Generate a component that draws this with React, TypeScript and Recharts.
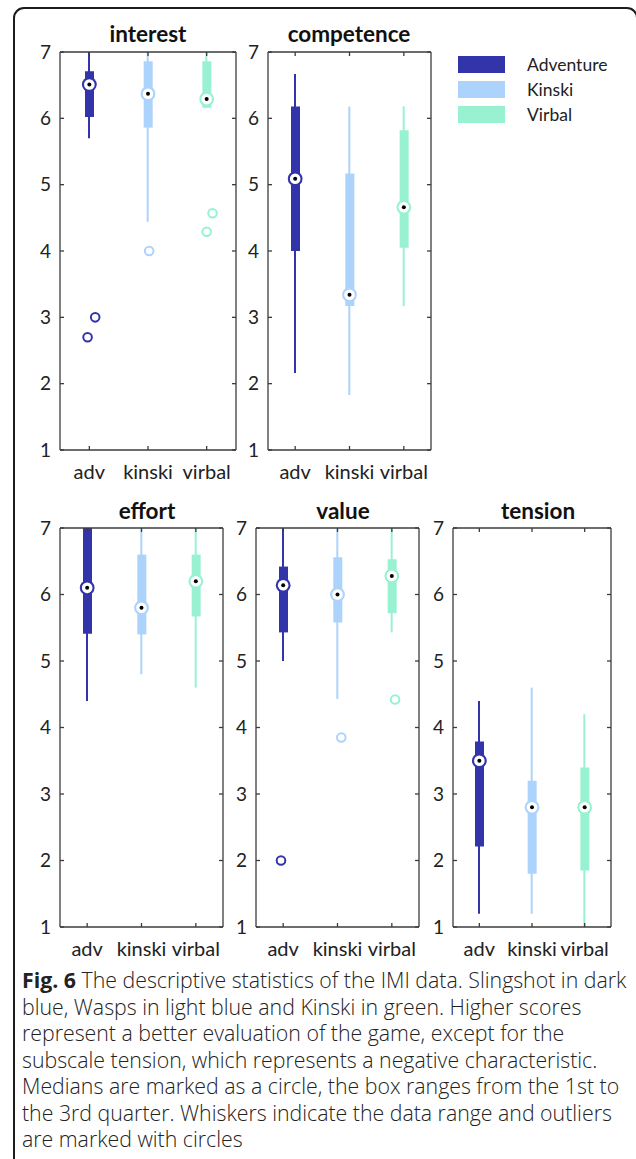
import React from 'react';
import { ComposedChart, Bar, Scatter, XAxis, YAxis, Cell } from 'recharts';

const categories = ['adv', 'kinski', 'virbal'];
const seriesNames = ['Adventure', 'Kinski', 'Virbal'];
const colors = ['#3434aa', '#acd3fc', '#98f2d1'];
const yTicks = [1, 2, 3, 4, 5, 6, 7];

// interest
const interestLow = [5.7, 4.44, 6.16];
const interestQ1 = [6.02, 5.86, 6.16];
const interestMedian = [6.51, 6.37, 6.29];
const interestQ3 = [6.71, 6.86, 6.86];
const interestHigh = [7, 7, 7];
const interestOutX = [0.97, 1.1, 2.02, 3.1, 3.0];
const interestOutY = [2.7, 3.0, 4.0, 4.57, 4.29];

// competence
const competenceLow = [2.16, 1.83, 3.17];
const competenceQ1 = [4.0, 3.17, 4.05];
const competenceMedian = [5.09, 3.34, 4.66];
const competenceQ3 = [6.18, 5.17, 5.82];
const competenceHigh = [6.67, 6.18, 6.18];

// effort
const effortLow = [4.4, 4.8, 4.6];
const effortQ1 = [5.41, 5.4, 5.67];
const effortMedian = [6.1, 5.8, 6.2];
const effortQ3 = [7, 6.6, 6.6];
const effortHigh = [7, 7, 7];

// value
const valueLow = [5.0, 4.43, 5.43];
const valueQ1 = [5.43, 5.58, 5.72];
const valueMedian = [6.14, 6.0, 6.28];
const valueQ3 = [6.42, 6.56, 6.53];
const valueHigh = [7, 7, 7];
const valueOutX = [0.96, 2.07, 3.06];
const valueOutY = [2.0, 3.85, 4.42];

// tension
const tensionLow = [1.2, 1.2, 1.0];
const tensionQ1 = [2.21, 1.8, 1.85];
const tensionMedian = [3.5, 2.8, 2.8];
const tensionQ3 = [3.79, 3.2, 3.4];
const tensionHigh = [4.4, 4.6, 4.2];

const captionLines = [
  'The descriptive statistics of the IMI data. Slingshot in dark',
  'blue, Wasps in light blue and Kinski in green. Higher scores',
  'represent a better evaluation of the game, except for the',
  'subscale tension, which represents a negative characteristic.',
  'Medians are marked as a circle, the box ranges from the 1st to',
  'the 3rd quarter. Whiskers indicate the data range and outliers',
  'are marked with circles',
];

const FONT = 'Lato, "Open Sans", sans-serif';
const CAPTION_FONT = '"Open Sans", Lato, sans-serif';
const AXIS = '#3c3c3c';

const MedianMark = (props: any) => {
  const { cx, cy, payload } = props;
  const c = colors[Math.round(payload.x) - 1];
  return (
    <g>
      <circle cx={cx} cy={cy} r={7.4} fill={c} />
      <circle cx={cx} cy={cy} r={5.3} fill="#fff" />
      <circle cx={cx} cy={cy} r={2} fill="#000" />
    </g>
  );
};

const OutlierMark = (props: any) => {
  const { cx, cy, payload } = props;
  const c = colors[Math.round(payload.x) - 1];
  return <circle cx={cx} cy={cy} r={4.3} fill="none" stroke={c} strokeWidth={2} />;
};

interface PanelProps {
  title: string;
  low: number[];
  q1: number[];
  median: number[];
  q3: number[];
  high: number[];
  outX?: number[];
  outY?: number[];
  plotLeft: number;
  plotTop: number;
  plotW: number;
  plotH: number;
  titleX: number;
  titleY: number;
}

const BoxPanel: React.FC<PanelProps> = ({ title, low, q1, median, q3, high, outX = [], outY = [], plotLeft, plotTop, plotW, plotH, titleX, titleY }) => {
  const rows = categories.map((name, i) => ({
    name,
    whisker: [low[i], high[i]],
    box: [q1[i], q3[i]],
  }));
  const medians = median.map((m, i) => ({ x: i + 1, y: m }));
  const outliers = outX.map((x, i) => ({ x, y: outY[i] }));
  const yw = 40;
  const xh = 40;
  const mt = 14;

  return (
    <>
      <div style={{ position: 'absolute', left: titleX - 100, top: titleY, width: 200, textAlign: 'center', fontFamily: FONT, fontWeight: 700, fontSize: 22.5, color: '#111', lineHeight: '24px' }}>
        {title}
      </div>
      <div style={{ position: 'absolute', left: plotLeft - yw, top: plotTop - 1 - mt }}>
        <ComposedChart width={yw + plotW + 1} height={mt + 1 + plotH + xh} data={rows} margin={{ top: mt, right: 0, bottom: 0, left: 0 }} style={{ fontFamily: FONT }}>
          <XAxis xAxisId="bottom" dataKey="name" type="category" height={xh} stroke={AXIS} strokeWidth={1.3} tickSize={-4} tickMargin={19} interval={0} tick={{ fontSize: 20, fill: '#222', fontFamily: FONT }} />
          <XAxis xAxisId="top" dataKey="name" type="category" orientation="top" height={1} stroke={AXIS} strokeWidth={1.3} tickSize={-4} interval={0} tickFormatter={() => ''} />
          <XAxis xAxisId="box" dataKey="name" type="category" hide />
          <XAxis xAxisId="num" dataKey="x" type="number" domain={[0.5, 3.5]} hide allowDataOverflow />
          <YAxis yAxisId="l" type="number" domain={[1, 7]} ticks={yTicks} width={yw} stroke={AXIS} strokeWidth={1.3} tickSize={-4} tickMargin={13} tick={{ fontSize: 19, fill: '#222', fontFamily: FONT }} allowDataOverflow interval={0} />
          <YAxis yAxisId="r" type="number" orientation="right" domain={[1, 7]} ticks={yTicks} width={1} stroke={AXIS} strokeWidth={1.3} tickSize={-4} tickFormatter={() => ''} allowDataOverflow interval={0} />
          <Bar xAxisId="bottom" yAxisId="l" dataKey="whisker" barSize={2} isAnimationActive={false}>
            {rows.map((r, i) => <Cell key={r.name} fill={colors[i]} />)}
          </Bar>
          <Bar xAxisId="box" yAxisId="l" dataKey="box" barSize={9} isAnimationActive={false}>
            {rows.map((r, i) => <Cell key={r.name} fill={colors[i]} />)}
          </Bar>
          <Scatter xAxisId="num" yAxisId="l" data={outliers} dataKey="y" shape={OutlierMark} isAnimationActive={false} />
          <Scatter xAxisId="num" yAxisId="l" data={medians} dataKey="y" shape={MedianMark} isAnimationActive={false} />
        </ComposedChart>
      </div>
    </>
  );
};

export default function App() {
  return (
    <div style={{ position: 'absolute', left: 0, top: 0, width: 636, height: 1159, overflow: 'hidden', background: '#fff' }}>
      <div style={{ position: 'absolute', left: 13, top: 7, width: 625, height: 1200, boxSizing: 'border-box', border: '2px solid #1c1c1c', borderRadius: '11px 11px 0 0' }} />

      <BoxPanel title="interest" low={interestLow} q1={interestQ1} median={interestMedian} q3={interestQ3} high={interestHigh} outX={interestOutX} outY={interestOutY}
        plotLeft={60} plotTop={52} plotW={176} plotH={398} titleX={148} titleY={22} />
      <BoxPanel title="competence" low={competenceLow} q1={competenceQ1} median={competenceMedian} q3={competenceQ3} high={competenceHigh}
        plotLeft={268} plotTop={52} plotW={163} plotH={398} titleX={349} titleY={22} />
      <BoxPanel title="effort" low={effortLow} q1={effortQ1} median={effortMedian} q3={effortQ3} high={effortHigh}
        plotLeft={60} plotTop={528} plotW={163} plotH={399} titleX={147} titleY={499} />
      <BoxPanel title="value" low={valueLow} q1={valueQ1} median={valueMedian} q3={valueQ3} high={valueHigh} outX={valueOutX} outY={valueOutY}
        plotLeft={256} plotTop={528} plotW={163} plotH={399} titleX={343} titleY={499} />
      <BoxPanel title="tension" low={tensionLow} q1={tensionQ1} median={tensionMedian} q3={tensionQ3} high={tensionHigh}
        plotLeft={453} plotTop={528} plotW={158} plotH={399} titleX={538} titleY={499} />

      {seriesNames.map((s, i) => (
        <div key={s} style={{ position: 'absolute', left: 458, top: 56 + i * 25, height: 17, display: 'flex', alignItems: 'center' }}>
          <div style={{ width: 47, height: 17, background: colors[i] }} />
          <span style={{ marginLeft: 22, fontFamily: FONT, fontSize: 17.5, color: '#222' }}>{s}</span>
        </div>
      ))}

      <div style={{ position: 'absolute', left: 22, top: 967, fontFamily: CAPTION_FONT, fontSize: 21.3, fontWeight: 300, lineHeight: '26.5px', color: '#222', whiteSpace: 'nowrap' }}>
        {captionLines.map((line, i) => (
          <div key={i}>
            {i === 0 && <b style={{ fontWeight: 700 }}>Fig. 6 </b>}
            {line}
          </div>
        ))}
      </div>
    </div>
  );
}
